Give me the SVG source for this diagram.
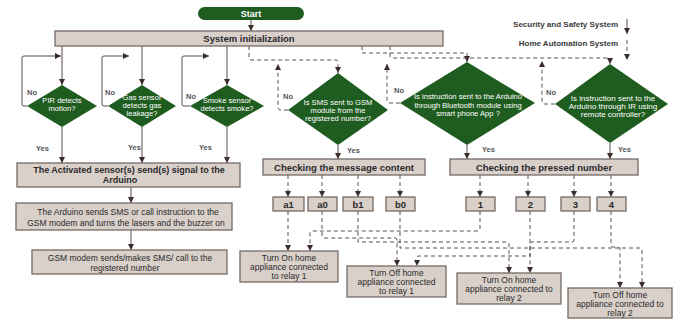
<svg xmlns="http://www.w3.org/2000/svg" width="676" height="320" viewBox="0 0 676 320">
<defs>
<marker id="ah" markerWidth="6" markerHeight="6" refX="6" refY="3" orient="auto" markerUnits="userSpaceOnUse">
<path d="M0,0 L6,3 L0,6 z" fill="#3a2c2c"/>
</marker>
<style>
.box{fill:#d9d0ca;stroke:#756a64;stroke-width:1.3}
.dia{fill:#1f5c1f}
text{font-family:"Liberation Sans",Arial,sans-serif}
.bt{font-weight:bold;font-size:9px;fill:#2a2a2a;text-anchor:middle}
.sb{font-weight:bold;font-size:9.5px;fill:#2a2a2a;text-anchor:middle}
.nt{font-size:8.5px;fill:#2a2a2a;text-anchor:middle}
.dt{font-size:7.6px;fill:#ffffff;text-anchor:middle}
.dt8{font-size:8px;fill:#ffffff;text-anchor:middle}
.lab{font-size:7.5px;font-weight:bold;fill:#555}
.leg{font-size:8px;font-weight:bold;fill:#3a3a3a;text-anchor:end}
.ln{fill:none;stroke:#5a4c4c;stroke-width:1;marker-end:url(#ah)}
.dl{fill:none;stroke:#555;stroke-width:1;stroke-dasharray:4 3;marker-end:url(#ah)}
</style>
</defs>
<rect width="676" height="320" fill="#ffffff"/>

<g id="connectors">
<path class="ln" d="M251,19 V31"/>
<path class="ln" d="M62,46 V85"/>
<path class="ln" d="M142,46 V85"/>
<path class="ln" d="M227,46 V85"/>
<path class="ln" d="M27,106 H24 Q22,106 22,104 V58 Q22,56 24,56 H61"/>
<path class="ln" d="M108,106 H104 Q102,106 102,104 V58 Q102,56 104,56 H129"/>
<path class="ln" d="M190,106 H184 Q182,106 182,104 V58 Q182,56 184,56 H209"/>
<path class="ln" d="M62,127 V163"/>
<path class="ln" d="M142,127 V163"/>
<path class="ln" d="M227,127 V163"/>
<path class="ln" d="M131,187 V203"/>
<path class="ln" d="M131,230 V250"/>
<path class="ln" d="M338,145 V159"/>
<path class="ln" d="M467,145 V159"/>
<path class="ln" d="M610,143 V159"/>
<path class="ln" d="M627,19 V34"/>

<path class="dl" d="M249,46 V58 Q249,60 251,60 H336 Q338,60 338,62 V73"/>
<path class="dl" d="M362,46 V53 H467 V62"/>
<path class="dl" d="M390,46 V56 Q390,58 392,58 H608 Q610,58 610,60 V64"/>
<path class="dl" d="M288,110 H281 Q278,110 278,107 V64"/>
<path class="dl" d="M400,103 H390 Q387,103 387,100 V64"/>
<path class="dl" d="M555,104 H545 Q542,104 542,101 V61"/>

<path class="dl" d="M288,175 V197"/>
<path class="dl" d="M322,175 V197"/>
<path class="dl" d="M358,175 V197"/>
<path class="dl" d="M400,175 V197"/>
<path class="dl" d="M480,175 V197"/>
<path class="dl" d="M528,175 V197"/>
<path class="dl" d="M574,175 V197"/>
<path class="dl" d="M611,175 V197"/>

<path class="dl" d="M288,211 V251"/>
<path class="dl" d="M480,211 V229 Q480,231 478,231 H312 Q310,231 310,233 V251"/>
<path class="dl" d="M322,211 V236 Q322,238 324,238 H395 Q397,238 397,240 V266"/>
<path class="dl" d="M358,211 V242 H507 Q509,242 509,244 V273"/>
<path class="dl" d="M400,211 V248 H640 Q642,248 642,250 V288"/>
<path class="dl" d="M530,211 V256 H419 Q417,256 417,258 V266"/>
<path class="dl" d="M574,211 V240 Q574,242 572,242 H532 Q530,242 530,244 V273"/>
<path class="dl" d="M611,211 V245 Q611,247 613,247 H618 Q620,247 620,249 V288"/>
<path class="dl" d="M627,40 V60"/>
</g>

<g id="start">
<rect x="198" y="7" width="106" height="13" rx="6.5" fill="#1f5c1f"/>
<text x="251" y="16.8" style="font-weight:bold;font-size:9px;fill:#fff;text-anchor:middle">Start</text>
</g>

<g id="sysinit">
<rect class="box" x="55" y="31" width="388" height="15"/>
<text class="sb" x="249" y="42">System initialization</text>
</g>

<g id="legend">
<text class="leg" x="618" y="27">Security and Safety System</text>
<text class="leg" x="618" y="46">Home Automation System</text>
</g>

<g id="pir">
<polygon class="dia" points="62,85 97,106 62,127 27,106"/>
<text class="dt" x="62" y="102.5">PIR detects</text>
<text class="dt" x="62" y="110.5">motion?</text>
<text class="lab" x="27" y="95">No</text>
<text class="lab" x="36" y="151">Yes</text>
</g>

<g id="gas">
<polygon class="dia" points="142,85 176,106 142,127 108,106"/>
<text class="dt" x="142" y="99.5">Gas sensor</text>
<text class="dt" x="142" y="107.5">detects gas</text>
<text class="dt" x="142" y="115.5">leakage?</text>
<text class="lab" x="105" y="95">No</text>
<text class="lab" x="128" y="150">Yes</text>
</g>

<g id="smoke">
<polygon class="dia" points="227,85 264,106 227,127 190,106"/>
<text class="dt" x="227" y="102.5">Smoke sensor</text>
<text class="dt" x="227" y="110.5">detects smoke?</text>
<text class="lab" x="186" y="99">No</text>
<text class="lab" x="199" y="150">Yes</text>
</g>

<g id="sms">
<polygon class="dia" points="338,73 388,110 338,145 288,110"/>
<text class="dt" x="338" y="104.5">Is SMS sent  to GSM</text>
<text class="dt" x="338" y="112.5">module from the</text>
<text class="dt" x="338" y="120.5">registered number?</text>
<text class="lab" x="283" y="99">No</text>
<text class="lab" x="347" y="153">Yes</text>
</g>

<g id="bluetooth">
<polygon class="dia" points="467,62 535,103 467,145 400,103"/>
<text class="dt" x="468" y="99">Is instruction sent to the Arduino</text>
<text class="dt" x="468" y="107.5">through Bluetooth module using</text>
<text class="dt" x="468" y="116">smart phone App ?</text>
<text class="lab" x="394" y="93">No</text>
<text class="lab" x="482" y="152">Yes</text>
</g>

<g id="ir">
<polygon class="dia" points="610,64 668,104 610,143 555,104"/>
<text class="dt8" x="613" y="100.5">Is instruction sent to the</text>
<text class="dt8" x="613" y="108.5">Arduino through IR  using</text>
<text class="dt8" x="613" y="116.5">remote controller?</text>
<text class="lab" x="546" y="95">No</text>
<text class="lab" x="618" y="152">Yes</text>
</g>

<g id="activated">
<rect class="box" x="17" y="163" width="223" height="24"/>
<text class="bt" x="129" y="173">The Activated sensor(s) send(s) signal to the</text>
<text class="bt" x="120" y="183">Arduino</text>
</g>

<g id="arduino">
<rect class="box" x="16" y="203" width="216" height="27"/>
<text class="nt" x="128" y="215">The Arduino sends SMS or call instruction to the</text>
<text class="nt" x="126" y="225.5">GSM modem and  turns the lasers and the buzzer on</text>
</g>

<g id="gsm">
<rect class="box" x="32" y="250" width="195" height="24"/>
<text class="nt" x="130" y="261">GSM modem sends/makes SMS/ call to the</text>
<text class="nt" x="125" y="270.5">registered number</text>
</g>

<g id="checkmsg">
<rect class="box" x="263" y="159" width="162" height="16"/>
<text class="sb" x="344" y="170.5">Checking the message content</text>
</g>

<g id="checknum">
<rect class="box" x="450" y="159" width="188" height="16"/>
<text class="sb" x="544" y="170.5">Checking the pressed number</text>
</g>

<g id="a1"><rect class="box" x="273" y="197" width="31" height="14"/><text class="sb" x="288.5" y="207.5">a1</text></g>
<g id="a0"><rect class="box" x="308" y="197" width="29" height="14"/><text class="sb" x="322.5" y="207.5">a0</text></g>
<g id="b1"><rect class="box" x="343" y="197" width="30" height="14"/><text class="sb" x="358" y="207.5">b1</text></g>
<g id="b0"><rect class="box" x="386" y="197" width="29" height="14"/><text class="sb" x="400.5" y="207.5">b0</text></g>
<g id="n1"><rect class="box" x="466" y="197" width="29" height="14"/><text class="sb" x="480.5" y="207.5">1</text></g>
<g id="n2"><rect class="box" x="516" y="197" width="29" height="14"/><text class="sb" x="530.5" y="207.5">2</text></g>
<g id="n3"><rect class="box" x="561" y="197" width="29" height="14"/><text class="sb" x="575.5" y="207.5">3</text></g>
<g id="n4"><rect class="box" x="597" y="197" width="29" height="14"/><text class="sb" x="611.5" y="207.5">4</text></g>

<g id="relay1on">
<rect class="box" x="240" y="251" width="98" height="31"/>
<text class="nt" x="289" y="260.5">Turn On home</text>
<text class="nt" x="289" y="269.5">appliance connected</text>
<text class="nt" x="289" y="278.5">to relay 1</text>
</g>

<g id="relay1off">
<rect class="box" x="347" y="266" width="99" height="31"/>
<text class="nt" x="396.5" y="275.5">Turn Off home</text>
<text class="nt" x="396.5" y="284.5">appliance connected</text>
<text class="nt" x="396.5" y="293.5">to relay 1</text>
</g>

<g id="relay2on">
<rect class="box" x="457" y="273" width="104" height="31"/>
<text class="nt" x="509" y="282.5">Turn On home</text>
<text class="nt" x="509" y="291.5">appliance connected to</text>
<text class="nt" x="509" y="300.5">relay 2</text>
</g>

<g id="relay2off">
<rect class="box" x="568" y="288" width="104" height="30"/>
<text class="nt" x="620" y="297.5">Turn Off home</text>
<text class="nt" x="620" y="306.5">appliance connected to</text>
<text class="nt" x="620" y="315.5">relay 2</text>
</g>
</svg>
